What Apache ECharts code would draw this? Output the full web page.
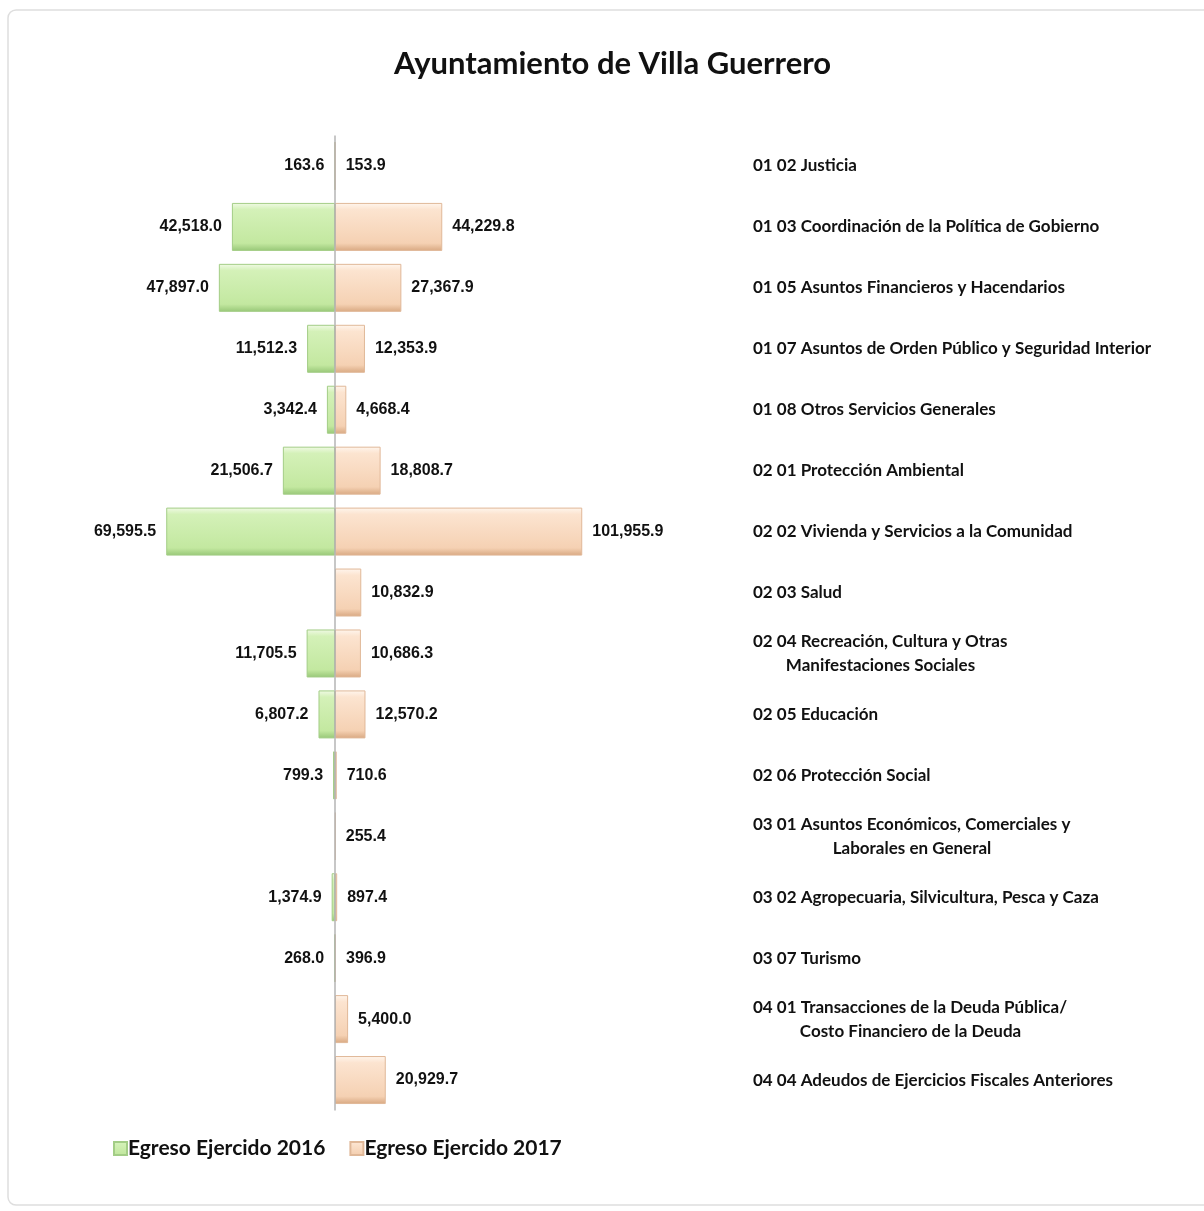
<!DOCTYPE html>
<html>
<head>
<meta charset="utf-8">
<script src="https://cdn.jsdelivr.net/npm/echarts@6/dist/echarts.min.js"></script>
<style>
  html, body { margin: 0; padding: 0; background: #fff; }
  #chart { width: 1204px; height: 1211px; }
</style>
</head>
<body>
<div id="chart"></div>
<script>
// categorias (la segunda linea se centra bajo la primera)
var categories = [
  '01 02 Justicia',
  '01 03 Coordinación de la Política de Gobierno',
  '01 05 Asuntos Financieros y Hacendarios',
  '01 07 Asuntos de Orden Público y Seguridad Interior',
  '01 08 Otros Servicios Generales',
  '02 01 Protección Ambiental',
  '02 02 Vivienda y Servicios a la Comunidad',
  '02 03 Salud',
  '02 04 Recreación, Cultura y Otras\nManifestaciones Sociales',
  '02 05 Educación',
  '02 06 Protección Social',
  '03 01 Asuntos Económicos, Comerciales y\nLaborales en General',
  '03 02 Agropecuaria, Silvicultura, Pesca y Caza',
  '03 07 Turismo',
  '04 01 Transacciones de la Deuda Pública/\nCosto Financiero de la Deuda',
  '04 04 Adeudos de Ejercicios Fiscales Anteriores'
]
var egreso2016 = [163.6, 42518.0, 47897.0, 11512.3, 3342.4, 21506.7, 69595.5, null, 11705.5, 6807.2, 799.3, null, 1374.9, 268.0, null, null]
var egreso2017 = [153.9, 44229.8, 27367.9, 12353.9, 4668.4, 18808.7, 101955.9, 10832.9, 10686.3, 12570.2, 710.6, 255.4, 897.4, 396.9, 5400.0, 20929.7]
var seriesNames = ['Egreso Ejercido 2016', 'Egreso Ejercido 2017']

var catFont = 'bold 17px Lato'
var numFont = '"Liberation Sans Narrow", "Arial Narrow", "Liberation Sans", Arial, sans-serif'

function fmt (v) {
  return Math.abs(v).toLocaleString('en-US', { minimumFractionDigits: 1, maximumFractionDigits: 1 })
}

// medir la primera linea para centrar la segunda debajo
var ctx = document.createElement('canvas').getContext('2d')
ctx.font = catFont
var rich = { a: { fontFamily: 'Lato', fontWeight: 'bold', fontSize: 17, color: '#111', lineHeight: 24 } }
categories.forEach(function (c, i) {
  var lines = c.split('\n')
  if (lines.length > 1) {
    rich['w' + i] = { fontFamily: 'Lato', fontWeight: 'bold', fontSize: 17, color: '#111', lineHeight: 24,
      width: Math.ceil(ctx.measureText(lines[0]).width), align: 'center' }
  }
})

function bevel (top, light, mid, dark) {
  return new echarts.graphic.LinearGradient(0, 0, 0, 1, [
    { offset: 0, color: top },
    { offset: 0.14, color: light },
    { offset: 0.84, color: mid },
    { offset: 1, color: dark }
  ])
}

var chart = echarts.init(document.getElementById('chart'))
var option = {
  backgroundColor: '#fff',
  animation: false,
  graphic: [{
    type: 'rect',
    shape: { x: 8, y: 10, width: 1210, height: 1195, r: 8 },
    style: { fill: '#fff', stroke: '#dedede', lineWidth: 1.5 },
    z: -10
  }],
  title: {
    text: 'Ayuntamiento de Villa Guerrero',
    left: 389,
    top: 43,
    textStyle: { fontFamily: 'Lato', fontWeight: 'bold', fontSize: 31, color: '#111' }
  },
  legend: {
    data: seriesNames,
    left: 108,
    top: 1133,
    itemWidth: 13,
    itemHeight: 13,
    itemGap: 24,
    icon: 'rect',
    textStyle: { fontFamily: 'Lato', fontWeight: 'bold', fontSize: 21, color: '#111', padding: [0, 0, 0, -4] }
  },
  grid: { left: 92.5, right: 481, top: 135.5, bottom: 100.5 },
  xAxis: {
    type: 'value',
    min: -100000,
    max: 160000,
    show: false
  },
  yAxis: {
    type: 'category',
    data: categories,
    inverse: true,
    position: 'right',
    axisLine: { show: false },
    axisTick: { show: false },
    splitLine: { show: false },
    axisLabel: {
      margin: 30,
      align: 'left',
      formatter: function (value, i) {
        var lines = value.split('\n')
        if (lines.length > 1) return '{a|' + lines[0] + '}\n{w' + i + '|' + lines[1] + '}'
        return '{a|' + value + '}'
      },
      rich: rich
    }
  },
  series: [
    {
      name: seriesNames[0],
      type: 'bar',
      barWidth: 48,
      barGap: '-100%',
      data: egreso2016.map(function (v) { return v == null ? null : -v }),
      itemStyle: {
        color: bevel('#f1fae6', '#d4f1b8', '#c3e8a0', '#97c777'),
        borderColor: '#a3cd86',
        borderWidth: 1
      },
      label: {
        show: true,
        position: 'left',
        distance: 10,
        fontFamily: numFont,
        fontWeight: 'bold',
        fontSize: 16,
        color: '#111',
        formatter: function (p) { return fmt(p.value) }
      },
      markLine: {
        silent: true,
        symbol: 'none',
        label: { show: false },
        lineStyle: { color: '#b5b5b5', width: 1.5, type: 'solid' },
        data: [{ xAxis: 0 }]
      }
    },
    {
      name: seriesNames[1],
      type: 'bar',
      barWidth: 48,
      data: egreso2017,
      itemStyle: {
        color: bevel('#fff6ee', '#fce4d0', '#f5d1b3', '#d8a881'),
        borderColor: '#e0b898',
        borderWidth: 1
      },
      label: {
        show: true,
        position: 'right',
        distance: 10,
        fontFamily: numFont,
        fontWeight: 'bold',
        fontSize: 16,
        color: '#111',
        formatter: function (p) { return fmt(p.value) }
      }
    }
  ]
}
chart.setOption(option)
</script>
</body>
</html>
